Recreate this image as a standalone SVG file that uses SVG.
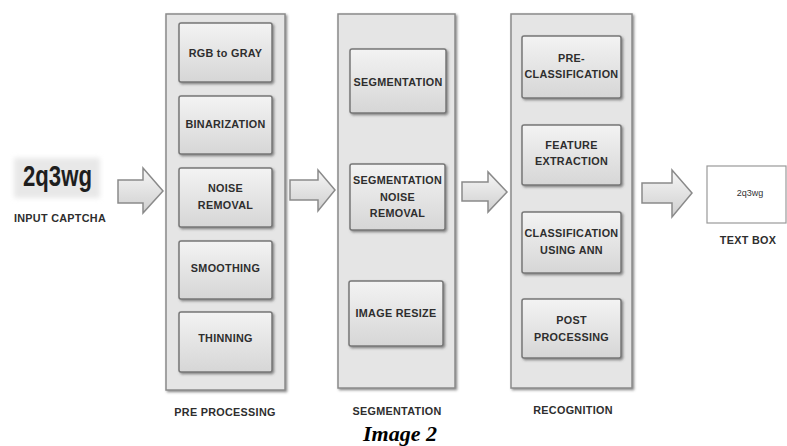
<svg xmlns="http://www.w3.org/2000/svg" width="787" height="446" viewBox="0 0 787 446">
<defs>
  <linearGradient id="boxGrad" x1="0" y1="0" x2="0" y2="1">
    <stop offset="0" stop-color="#f3f3f3"/>
    <stop offset="1" stop-color="#d6d6d6"/>
  </linearGradient>
  <linearGradient id="arrowGrad" x1="0" y1="0" x2="0" y2="1">
    <stop offset="0" stop-color="#f6f6f6"/>
    <stop offset="1" stop-color="#cfcfcf"/>
  </linearGradient>
  <filter id="shadow" x="-10%" y="-10%" width="125%" height="125%">
    <feDropShadow dx="1.5" dy="1.5" stdDeviation="0.8" flood-color="#444" flood-opacity="0.6"/>
  </filter>
  <filter id="soft" x="-20%" y="-20%" width="140%" height="140%">
    <feGaussianBlur stdDeviation="2.5"/>
  </filter>
</defs>
<style>
  .panel { fill: #e5e5e5; stroke: #8a8a8a; stroke-width: 1.5; filter: url(#shadow); }
  .box { fill: url(#boxGrad); stroke: #777; stroke-width: 1.5; filter: url(#shadow); }
  .lbl { font-family: "Liberation Sans", Arial, sans-serif; font-weight: bold; font-size: 10.8px; letter-spacing: 0.3px; fill: #2e2e2e; text-anchor: middle; }
  .arrow { fill: url(#arrowGrad); stroke: #8a8a8a; stroke-width: 1.5; stroke-linejoin: miter; }
  .cap { font-family: "Liberation Serif", "Times New Roman", serif; font-weight: bold; font-style: italic; font-size: 22px; fill: #000; text-anchor: middle; }
</style>
<rect x="0" y="0" width="787" height="446" fill="#ffffff"/>

<g id="input-captcha">
  <rect x="14" y="158" width="86" height="40" fill="#e8e8e8" filter="url(#soft)"/>
  <text x="23" y="186" font-family="'Liberation Sans', Arial, sans-serif" font-weight="bold" font-size="29" fill="#1e1e1e" textLength="69" lengthAdjust="spacingAndGlyphs">2q3wg</text>
  <text class="lbl" x="60" y="221.5">INPUT CAPTCHA</text>
</g>

<g id="pre-processing">
  <rect class="panel" x="166" y="14" width="119" height="376"/>
  <text class="lbl" x="225" y="416">PRE PROCESSING</text>
  <g id="rgb-to-gray">
    <rect class="box" x="179" y="23" width="93" height="59" rx="2"/>
    <text class="lbl" x="225.5" y="56.5">RGB to GRAY</text>
  </g>
  <g id="binarization">
    <rect class="box" x="179" y="96" width="93" height="58" rx="2"/>
    <text class="lbl" x="225.5" y="128">BINARIZATION</text>
  </g>
  <g id="noise-removal">
    <rect class="box" x="179" y="168" width="93" height="59" rx="2"/>
    <text class="lbl" x="225.5" y="191.5">NOISE</text>
    <text class="lbl" x="225.5" y="208.5">REMOVAL</text>
  </g>
  <g id="smoothing">
    <rect class="box" x="179" y="241" width="93" height="58" rx="2"/>
    <text class="lbl" x="225.5" y="272">SMOOTHING</text>
  </g>
  <g id="thinning">
    <rect class="box" x="179" y="312" width="93" height="60" rx="2"/>
    <text class="lbl" x="225.5" y="342">THINNING</text>
  </g>
</g>

<g id="segmentation">
  <rect class="panel" x="338" y="14" width="117" height="374"/>
  <text class="lbl" x="397" y="415">SEGMENTATION</text>
  <g id="segmentation-step">
    <rect class="box" x="350" y="49" width="96" height="64" rx="2"/>
    <text class="lbl" x="398" y="85.5">SEGMENTATION</text>
  </g>
  <g id="segmentation-noise-removal">
    <rect class="box" x="350" y="164" width="95" height="66" rx="2"/>
    <text class="lbl" x="397.5" y="183.5">SEGMENTATION</text>
    <text class="lbl" x="397.5" y="200.5">NOISE</text>
    <text class="lbl" x="397.5" y="216.5">REMOVAL</text>
  </g>
  <g id="image-resize">
    <rect class="box" x="349" y="281" width="94" height="65" rx="2"/>
    <text class="lbl" x="396" y="316.5">IMAGE RESIZE</text>
  </g>
</g>

<g id="recognition">
  <rect class="panel" x="511" y="14" width="121" height="374"/>
  <text class="lbl" x="573" y="413.5">RECOGNITION</text>
  <g id="pre-classification">
    <rect class="box" x="522" y="36" width="99" height="62" rx="2"/>
    <text class="lbl" x="571.5" y="61.5">PRE-</text>
    <text class="lbl" x="571.5" y="77.5">CLASSIFICATION</text>
  </g>
  <g id="feature-extraction">
    <rect class="box" x="522" y="125" width="99" height="60" rx="2"/>
    <text class="lbl" x="571.5" y="148.5">FEATURE</text>
    <text class="lbl" x="571.5" y="164.5">EXTRACTION</text>
  </g>
  <g id="classification-ann">
    <rect class="box" x="522" y="212" width="99" height="61" rx="2"/>
    <text class="lbl" x="571.5" y="236.5">CLASSIFICATION</text>
    <text class="lbl" x="571.5" y="253.5">USING ANN</text>
  </g>
  <g id="post-processing">
    <rect class="box" x="522" y="299" width="99" height="59" rx="2"/>
    <text class="lbl" x="571.5" y="323.5">POST</text>
    <text class="lbl" x="571.5" y="340.5">PROCESSING</text>
  </g>
</g>

<g id="text-box">
  <rect x="707" y="166" width="79" height="57" fill="#ffffff" stroke="#999" stroke-width="1.2"/>
  <text x="750" y="195.5" font-family="'Liberation Sans', Arial, sans-serif" font-size="9" fill="#333" text-anchor="middle">2q3wg</text>
  <text class="lbl" x="748" y="243.5">TEXT BOX</text>
</g>

<g id="connectors">
  <path class="arrow" d="M118,180 H143 V168 L163,191 L143,213 V203 H118 Z"/>
  <path class="arrow" d="M290,180 H318 V170 L335,190 L318,211 V200 H290 Z"/>
  <path class="arrow" d="M462,182 H488 V172 L507,192 L488,212 V201 H462 Z"/>
  <path class="arrow" d="M642,183 H672 V170 L692,193 L672,217 V203 H642 Z"/>
</g>

<text class="cap" x="400" y="441">Image 2</text>
</svg>
